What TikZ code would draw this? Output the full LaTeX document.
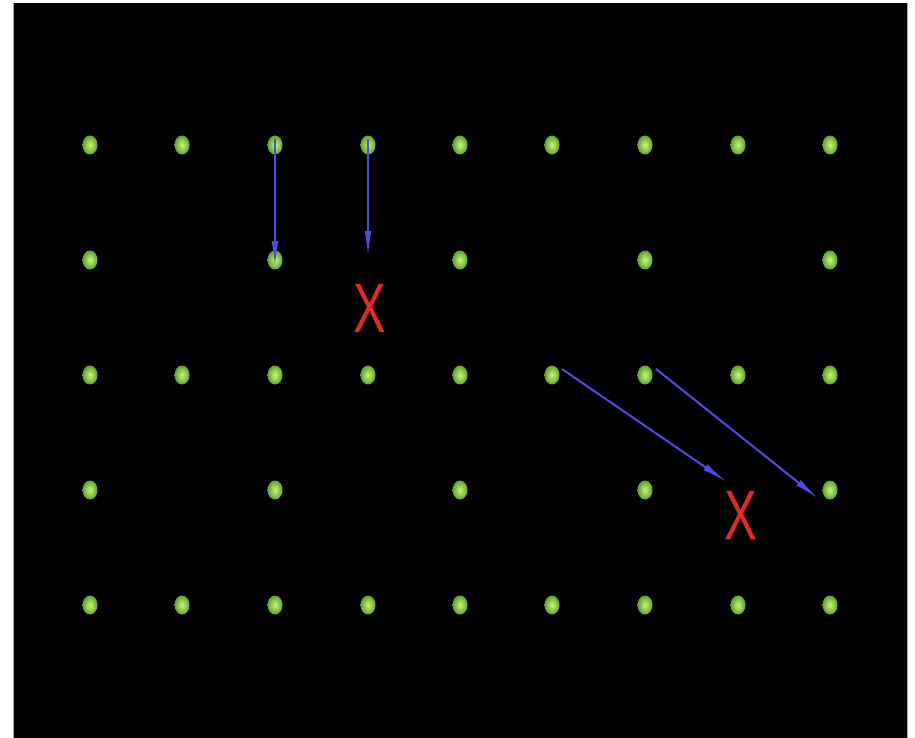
\documentclass[tikz,border=0pt]{standalone}
\usepackage{fontspec}
\setmainfont{Liberation Sans}
\usetikzlibrary{shapes.geometric,arrows.meta}
\definecolor{dotlight}{RGB}{200,245,130}
\definecolor{dotdark}{RGB}{95,165,35}
\definecolor{arrowblue}{RGB}{75,75,230}
\definecolor{xred}{RGB}{230,40,40}
\tikzset{
  dot/.style={ellipse, minimum width=15pt, minimum height=19pt, inner sep=0pt, shading=radial, inner color=dotlight, outer color=dotdark},
  move/.style={draw=arrowblue, line width=2pt, -{Latex[length=26pt,width=7pt]}},
  cross/.style={text=xred, inner sep=0pt, font=\fontsize{70}{70}\selectfont}
}
\begin{document}
\begin{tikzpicture}[x=1pt,y=-1pt]
\useasboundingbox (0,0) rectangle (915,738);
\fill[black] (14,3) rectangle (907,738);
\draw[gray!70, line width=1.5pt] (13.5,3) -- (13.5,738);
\draw[gray!70, line width=1.5pt] (907.5,3) -- (907.5,738);
% full rows
\foreach \r/\y in {1/145,3/375,5/605}{
  \foreach \c/\x in {0/90,1/182,2/275,3/368,4/460,5/552,6/645,7/738,8/830}{
    \node[dot] (d\r\c) at (\x,\y) {};
  }
}
% sparse rows
\foreach \r/\y in {2/260,4/490}{
  \foreach \c/\x in {0/90,2/275,4/460,6/645,8/830}{
    \node[dot] (d\r\c) at (\x,\y) {};
  }
}
\coordinate (e1) at (368,257);
\coordinate (e2) at (727,482);
\draw[move] ([yshift=6pt]d12.center) -- ([yshift=-7pt]d22.center);
\draw[move] ([yshift=6pt]d13.center) -- (e1);
\draw[move] ([xshift=10pt,yshift=6pt]d35.center) -- (e2);
\draw[move] ([xshift=11pt,yshift=6pt]d36.center) -- ([xshift=-11pt,yshift=-9pt]d48.center);
\node[cross] (x1) at (370,308) {\scalebox{0.7}[1]{X}};
\node[cross] (x2) at (741,515) {\scalebox{0.7}[1]{X}};
\end{tikzpicture}
\end{document}
